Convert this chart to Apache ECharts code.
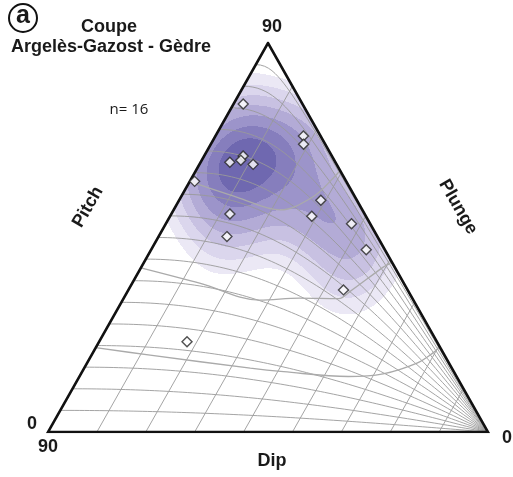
<!DOCTYPE html>
<html>
<head>
<meta charset="utf-8">
<script src="https://cdn.jsdelivr.net/npm/echarts@6/dist/echarts.min.js"></script>
<style>
  html, body { margin: 0; padding: 0; background: #ffffff; }
  #chart { width: 513px; height: 477px; }
</style>
</head>
<body>
<div id="chart"></div>
<script>
// Fault-slip measurements: dip of the fault plane and pitch of the striation (degrees)
const dip   = [88, 72, 71, 82, 82, 84, 79, 89, 61, 78, 61, 52, 76, 46, 46, 72];
const pitch = [76, 78, 76, 65, 64, 63, 64, 58, 67, 52, 61, 71, 47, 69, 49, 22];

// Graticule: lines of constant pitch and constant dip
const pitchLines = [5, 10, 15, 20, 25, 30, 35, 40, 45, 50, 55, 60, 65, 70, 75, 80, 85];
const dipLines = [10, 20, 30, 40, 50, 60, 70, 80];

// Reference curves, as [dip, pitch] pairs
const curveLow  = [[90, 19.5], [78, 18.2], [56, 17.9], [48.8, 18.7], [35, 22.8], [28.2, 29.5], [22.5, 45.9], [20.4, 64.3], [19.7, 90]];
const curveMid  = [[90, 38], [76, 35.6], [62, 35.1], [54, 39.5], [46, 45.5], [44.5, 50], [40.5, 72], [39.6, 81], [39.5, 90]];
const curveHigh = [[90, 58], [78.6, 56], [68.2, 57.3], [63, 65.9], [61, 78], [60.5, 90]];

// Labels
const titleLines = ['Coupe', 'Argelès-Gazost - Gèdre'];
const panelLetter = 'a';
const sampleLabel = 'n= ' + dip.length;
const axisNames = { pitch: 'Pitch', plunge: 'Plunge', dip: 'Dip' };
const cornerTicks = { top: '90', leftPitch: '0', leftDip: '90', right: '0' };

// Density shading levels (fraction of peak) and their fills, light to dark
const levelFractions = [0.19, 0.28, 0.38, 0.49, 0.61, 0.74, 0.87];
const levelColors = ['#ebe8f5', '#dbd6ed', '#c8c1e2', '#b3abd6', '#9c94ca', '#867ebd', '#6f68b0'];

const RAD = Math.PI / 180;
function plungeOf(d, p) {
  return Math.asin(Math.sin(d * RAD) * Math.sin(p * RAD)) / RAD;
}
// Ternary placement: apex = plunge 90, bottom-left = dip 90 / pitch 0, bottom-right = dip 0
function toXY(d, pl) {
  const a = pl / 90, c = (90 - d) / 90;
  return [0.5 * a + c, a];
}
function fromDipPitch(d, p) { return toXY(d, plungeOf(d, p)); }

const points = dip.map((d, i) => fromDipPitch(d, pitch[i]));

// Gaussian kernel density on a fine grid across the triangle
const NX = 440, NY = 389, SX = 0.084, SY = 0.095;
const dens = new Float32Array(NX * NY);
let peak = 0;
for (let j = 0; j < NY; j++) {
  const yc = (j + 0.5) / NY;
  for (let i = 0; i < NX; i++) {
    const xc = (i + 0.5) / NX;
    let s = 0;
    for (let k = 0; k < points.length; k++) {
      const dx = (xc - points[k][0]) / SX, dy = (yc - points[k][1]) / SY;
      s += Math.exp(-0.5 * (dx * dx + dy * dy));
    }
    dens[j * NX + i] = s;
    if (s > peak) peak = s;
  }
}
function levelAt(i, j) {
  const xc = (i + 0.5) / NX, yc = (j + 0.5) / NY;
  if (xc < yc * 0.5 || xc > 1 - yc * 0.5) return 0;
  const f = dens[j * NX + i] / peak;
  let lvl = 0;
  for (let k = 0; k < levelFractions.length; k++) if (f >= levelFractions[k]) lvl = k + 1;
  return lvl;
}

function renderDensity(params, api) {
  const children = [];
  for (let j = 0; j < NY; j++) {
    const y0 = j / NY, y1 = (j + 1) / NY;
    let start = 0, cur = 0;
    for (let i = 0; i <= NX; i++) {
      const lvl = i < NX ? levelAt(i, j) : 0;
      if (lvl !== cur) {
        if (cur > 0) {
          const p0 = api.coord([start / NX, y1]);
          const p1 = api.coord([i / NX, y0]);
          children.push({
            type: 'rect', silent: true,
            shape: { x: p0[0], y: p0[1], width: p1[0] - p0[0], height: p1[1] - p0[1] },
            style: { fill: levelColors[cur - 1] }
          });
        }
        start = i; cur = lvl;
      }
    }
  }
  return { type: 'group', children: children };
}

const series = [];
series.push({
  type: 'custom', z: 1, silent: true, animation: false,
  data: [[0.5, 0.5]],
  renderItem: renderDensity
});

const gridStyle = { color: '#9a9a9a', width: 0.9 };
pitchLines.forEach(p => {
  const pts = [];
  for (let d = 90; d >= 0; d -= 1) pts.push(fromDipPitch(d, p));
  series.push({ type: 'line', z: 2, silent: true, animation: false, showSymbol: false, data: pts, lineStyle: gridStyle });
});
dipLines.forEach(d => {
  const pts = [];
  for (let p = 0; p <= 90; p += 5) pts.push(fromDipPitch(d, p));
  series.push({ type: 'line', z: 2, silent: true, animation: false, showSymbol: false, data: pts, lineStyle: gridStyle });
});
[curveLow, curveMid, curveHigh].forEach(c => {
  series.push({
    type: 'line', z: 3, silent: true, animation: false, showSymbol: false, smooth: 0.35,
    data: c.map(q => fromDipPitch(q[0], q[1])),
    lineStyle: { color: '#aaaaaa', width: 1.3 }
  });
});

// Triangle outline
const cBL = toXY(90, 0), cTop = toXY(90, 90), cBR = toXY(0, 0);
series.push({
  type: 'line', z: 4, silent: true, animation: false, showSymbol: false,
  data: [cBR, cBL, cTop, cBR, cBL],
  lineStyle: { color: '#111111', width: 2.6, join: 'miter', miterLimit: 20 }
});

// Measurements
series.push({
  type: 'scatter', z: 5, silent: true, animation: false,
  symbol: 'diamond', symbolSize: 10,
  data: points,
  itemStyle: { color: '#ffffff', borderColor: '#262626', borderWidth: 1.4 }
});

function label(text, x, y, font, rotation) {
  return {
    type: 'text', x: x, y: y, rotation: rotation || 0, silent: true,
    style: {
      text: text, font: font, fill: '#1a1a1a',
      align: 'center', verticalAlign: 'middle',
      textAlign: 'center', textVerticalAlign: 'middle'
    }
  };
}
const boldFont = 'bold 18px "Liberation Sans", Arial, sans-serif';

const chart = echarts.init(document.getElementById('chart'), null, { renderer: 'canvas' });
chart.setOption({
  animation: false,
  grid: { left: 48, top: 43, width: 440, height: 389 },
  xAxis: { type: 'value', min: 0, max: 1, show: false },
  yAxis: { type: 'value', min: 0, max: 1, show: false },
  series: series,
  graphic: [
    { type: 'circle', silent: true, shape: { cx: 23, cy: 18, r: 14 }, style: { fill: '#ffffff', stroke: '#111111', lineWidth: 2 } },
    label(panelLetter, 23, 16.5, 'bold 25px "Liberation Sans", Arial, sans-serif'),
    label(titleLines[0], 109, 27, boldFont),
    label(titleLines[1], 111, 47, boldFont),
    label(sampleLabel, 129, 110, '15px "Open Sans", "Liberation Sans", sans-serif'),
    label(cornerTicks.top, 272, 27, boldFont),
    label(cornerTicks.leftPitch, 32, 424, boldFont),
    label(cornerTicks.leftDip, 48, 447, boldFont),
    label(cornerTicks.right, 507, 438, boldFont),
    label(axisNames.pitch, 88, 207, boldFont, Math.PI / 3),
    label(axisNames.plunge, 458, 207, boldFont, -Math.PI / 3),
    label(axisNames.dip, 272, 461, boldFont)
  ]
});
</script>
</body>
</html>
